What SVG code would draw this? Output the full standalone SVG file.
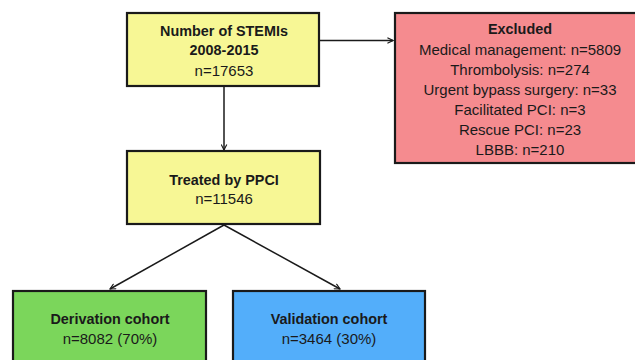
<svg xmlns="http://www.w3.org/2000/svg" width="635" height="360" viewBox="0 0 635 360">
<defs>
<style>
.box{stroke:#1a1a1a;stroke-width:2.2}
.t{font-family:"Liberation Sans",Arial,sans-serif;font-size:15px;fill:#1a1a1a;text-anchor:middle}
.b{font-weight:bold;font-size:14.4px}
.c{stroke:#1a1a1a;stroke-width:1.5;fill:none;marker-end:url(#ah)}
</style>
<marker id="ah" viewBox="0 0 10 10" refX="9" refY="5" markerWidth="7" markerHeight="7" orient="auto" markerUnits="userSpaceOnUse">
<path d="M1,1 L9,5 L1,9" fill="none" stroke="#1a1a1a" stroke-width="1.6"/>
</marker>
</defs>
<rect width="635" height="360" fill="#ffffff"/>
<g id="connectors">
<line class="c" x1="319" y1="40.5" x2="393" y2="40.5"/>
<line class="c" x1="224" y1="86" x2="224" y2="150"/>
<line class="c" x1="224" y1="225" x2="110" y2="289"/>
<line class="c" x1="224" y1="225" x2="340" y2="289"/>
</g>
<g id="stemis">
<rect class="box" x="127" y="13" width="192" height="73" fill="#f7f795"/>
<text class="t b" x="224" y="36">Number of STEMIs</text>
<text class="t b" x="224" y="55">2008-2015</text>
<text class="t" x="224" y="76">n=17653</text>
</g>
<g id="excluded">
<rect class="box" x="395" y="13" width="245" height="150" fill="#f58b8f"/>
<text class="t b" x="520" y="34">Excluded</text>
<text class="t" x="520" y="55">Medical management: n=5809</text>
<text class="t" x="520" y="75">Thrombolysis: n=274</text>
<text class="t" x="520" y="95">Urgent bypass surgery: n=33</text>
<text class="t" x="520" y="115">Facilitated PCI: n=3</text>
<text class="t" x="520" y="135">Rescue PCI: n=23</text>
<text class="t" x="520" y="155">LBBB: n=210</text>
</g>
<g id="ppci">
<rect class="box" x="127" y="151" width="193" height="73" fill="#f7f795"/>
<text class="t b" x="224" y="185">Treated by PPCI</text>
<text class="t" x="224" y="204">n=11546</text>
</g>
<g id="derivation">
<rect class="box" x="13" y="291" width="193" height="80" fill="#7bd65b"/>
<text class="t b" x="110" y="324">Derivation cohort</text>
<text class="t" x="110" y="344">n=8082 (70%)</text>
</g>
<g id="validation">
<rect class="box" x="233" y="291" width="192" height="80" fill="#53aefa"/>
<text class="t b" x="329" y="324">Validation cohort</text>
<text class="t" x="329" y="344">n=3464 (30%)</text>
</g>
</svg>
